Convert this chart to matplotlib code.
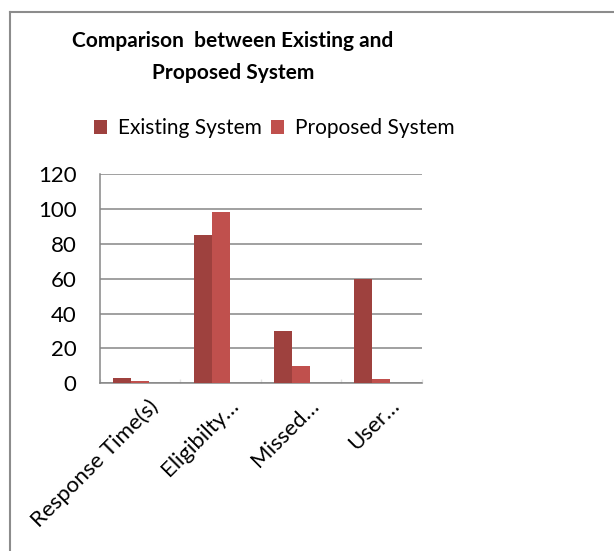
import matplotlib
matplotlib.use("Agg")
import matplotlib.pyplot as plt
from matplotlib.lines import Line2D
import matplotlib.transforms as mtransforms
import numpy as np

categories = ["Response Time(s)", "Eligibilty\u2026", "Missed\u2026", "User\u2026"]
existing = [3, 85, 30, 60]
proposed = [1.5, 98, 10, 2.5]
series_names = ["Existing System", "Proposed System"]
yticks = [0, 20, 40, 60, 80, 100, 120]

plt.rcParams['font.family'] = ['Lato', 'DejaVu Sans']

W, H = 614, 551
fig = plt.figure(figsize=(W / 100, H / 100), dpi=100)
fig.patch.set_facecolor('white')

# outer chart frame
fc = '#8c8c8c'
fig.add_artist(Line2D([10 / W, 10 / W], [0, 1 - 12 / H], transform=fig.transFigure, color=fc, lw=1.5))
fig.add_artist(Line2D([10 / W, 1], [1 - 12 / H, 1 - 12 / H], transform=fig.transFigure, color=fc, lw=1.5))

ax = fig.add_axes([100 / W, 1 - 383.3 / H, 321.7 / W, 209.3 / H])
x = np.arange(len(categories))
w = 0.224
ax.bar(x - w, existing, width=w, color='#9E413E', label=series_names[0], zorder=3)
ax.bar(x, proposed, width=w, color='#C0504D', label=series_names[1], zorder=3)

ax.set_xlim(-0.5, len(categories) - 0.5)
ax.set_ylim(0, 120)
ax.set_yticks(yticks)
ax.set_yticklabels([str(v) for v in yticks], fontsize=16)
ax.yaxis.grid(True, color='#868686', lw=1.1, zorder=0)
ax.tick_params(axis='y', length=0, pad=17)
for s in ['top', 'right']:
    ax.spines[s].set_visible(False)
ax.spines['left'].set_color('#868686')
ax.spines['left'].set_linewidth(1.1)
ax.spines['bottom'].set_color('#868686')
ax.spines['bottom'].set_linewidth(1.1)

ax.set_xticks(x)
ax.set_xticklabels(categories, rotation=45, ha='right', rotation_mode='anchor', fontsize=16)
ax.tick_params(axis='x', length=0, pad=6)
offset = mtransforms.ScaledTranslation(8 / 100, -4 / 100, fig.dpi_scale_trans)
for lab in ax.get_xticklabels():
    lab.set_transform(lab.get_transform() + offset)
ax.set_xticks(np.arange(len(categories) + 1) - 0.5, minor=True)
ax.tick_params(axis='x', which='minor', length=3, direction='in', color='#e3e3e3', width=1)

fig.text(233 / W, 1 - 57 / H, "Comparison  between Existing and\nProposed System", ha='center', va='center',
         fontsize=15, fontweight='bold', linespacing=1.75)

leg = fig.legend(loc='center', bbox_to_anchor=(274 / W, 1 - 128 / H), ncol=2, frameon=False,
                 fontsize=15, handlelength=0.65, handleheight=0.65, handletextpad=0.5, columnspacing=0.45)

fig.savefig('out.png', dpi=100)
